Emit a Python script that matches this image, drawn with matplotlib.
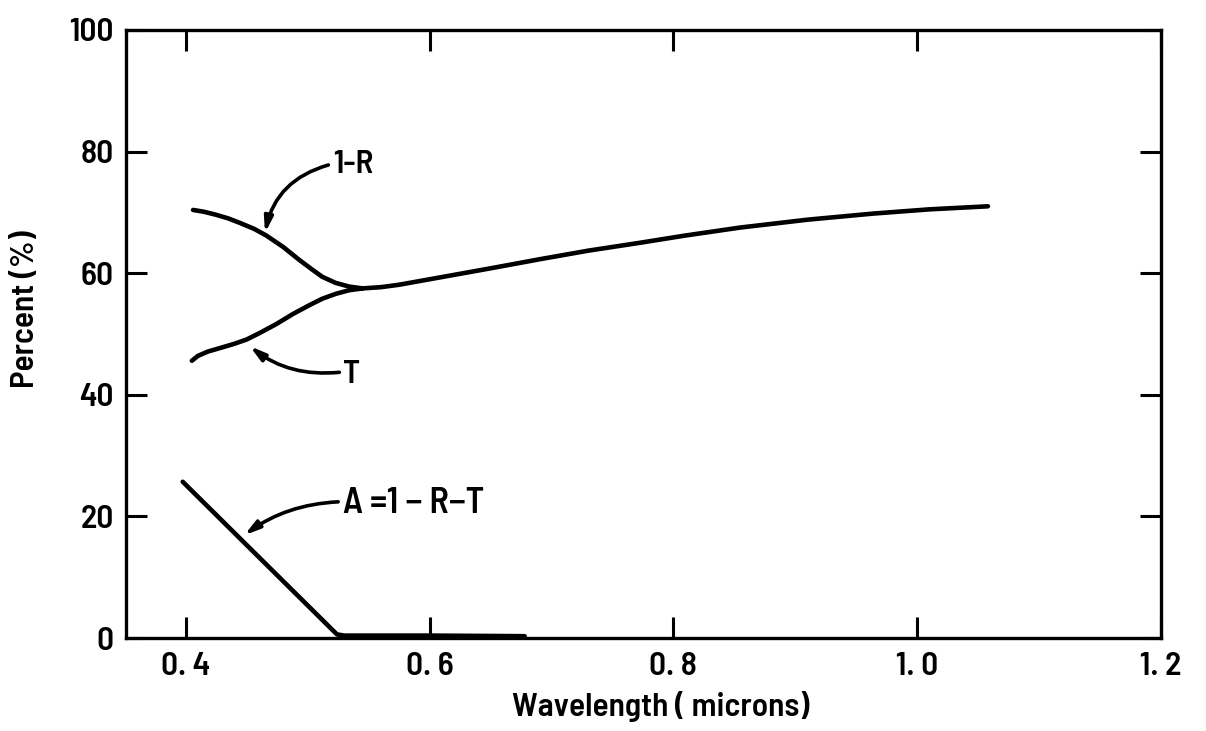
import matplotlib
matplotlib.use("Agg")
import matplotlib.pyplot as plt

# Spectral data (percent vs wavelength in microns)
wl_1mr = [0.406, 0.415, 0.425, 0.435, 0.444, 0.456, 0.466, 0.480, 0.493, 0.503,
          0.512, 0.523, 0.534, 0.545]
one_minus_r = [70.4, 70.1, 69.6, 69.0, 68.3, 67.3, 66.2, 64.3, 62.2, 60.7,
               59.4, 58.4, 57.8, 57.5]

wl_t = [0.405, 0.410, 0.418, 0.430, 0.440, 0.450, 0.460, 0.474, 0.488, 0.502,
        0.512, 0.523, 0.534, 0.545]
trans = [45.6, 46.4, 47.1, 47.8, 48.4, 49.1, 50.1, 51.6, 53.3, 54.8,
         55.8, 56.6, 57.2, 57.5]

wl_common = [0.545, 0.560, 0.575, 0.600, 0.650, 0.6905, 0.730, 0.7725, 0.810,
             0.8546, 0.910, 0.9637, 1.010, 1.058]
common = [57.5, 57.7, 58.1, 59.0, 60.8, 62.3, 63.7, 65.0, 66.2,
          67.5, 68.8, 69.8, 70.5, 71.0]

wl_abs = [0.3975, 0.524, 0.53, 0.60, 0.678]
absorb = [25.7, 0.6, 0.4, 0.4, 0.3]

xticks = [0.4, 0.6, 0.8, 1.0, 1.2]
xtick_labels = ["0. 4", "0. 6", "0. 8", "1. 0", "1. 2"]
yticks = [0, 20, 40, 60, 80, 100]
ytick_labels = ["0", "20", "40", "60", "80", "100"]

plt.rcParams['font.family'] = ['Barlow Semi Condensed', 'DejaVu Sans']
plt.rcParams['font.weight'] = 600
plt.rcParams['axes.labelweight'] = 600

FS = 24

fig = plt.figure(figsize=(12.06, 7.31), dpi=100)
ax = fig.add_axes([0.1045, 0.1272, 0.8582, 0.8318])

LW = 3.3
for xs, ys in [(wl_1mr, one_minus_r), (wl_t, trans), (wl_common, common), (wl_abs, absorb)]:
    ax.plot(xs, ys, color='black', lw=LW, solid_capstyle='round', solid_joinstyle='round')

ax.set_xlim(0.351, 1.2)
ax.set_ylim(0, 100)
ax.set_xticks(xticks)
ax.set_xticklabels(xtick_labels)
ax.set_yticks(yticks)
ax.set_yticklabels(ytick_labels)

for s in ax.spines.values():
    s.set_linewidth(2.4)
ax.tick_params(direction='in', length=15, width=2.2, top=True, right=True,
               labelsize=FS)
ax.tick_params(axis='x', pad=10)
ax.tick_params(axis='y', pad=9)

ax.set_xlabel("Wavelength ( microns)", fontsize=FS)
ax.set_ylabel("Percent (%)", fontsize=FS)
ax.xaxis.set_label_coords(0.517, -0.087)
ax.yaxis.set_label_coords(-0.083, 0.54)

arrow = dict(arrowstyle='-|>,head_length=0.9,head_width=0.25', color='black',
             lw=2.6, shrinkA=0, shrinkB=0)

# 1-R label
ax.text(0.521, 77.8, "1-R", fontsize=FS, ha='left', va='center')
ax.annotate('', xy=(0.465, 66.6), xytext=(0.517, 77.8),
            arrowprops=dict(arrow, connectionstyle='arc3,rad=0.3'))

# T label
ax.text(0.529, 43.4, "T", fontsize=FS, ha='left', va='center')
ax.annotate('', xy=(0.4525, 48.0), xytext=(0.526, 43.7),
            arrowprops=dict(arrow, connectionstyle='arc3,rad=-0.2'))

# Absorption label
ax.text(0.529, 22.2, "A =1 \u2212 R\u2212T", fontsize=FS + 2, ha='left', va='center')
ax.annotate('', xy=(0.448, 16.9), xytext=(0.525, 22.4),
            arrowprops=dict(arrow, connectionstyle='arc3,rad=0.15'))

fig.savefig("out.png", dpi=100)
